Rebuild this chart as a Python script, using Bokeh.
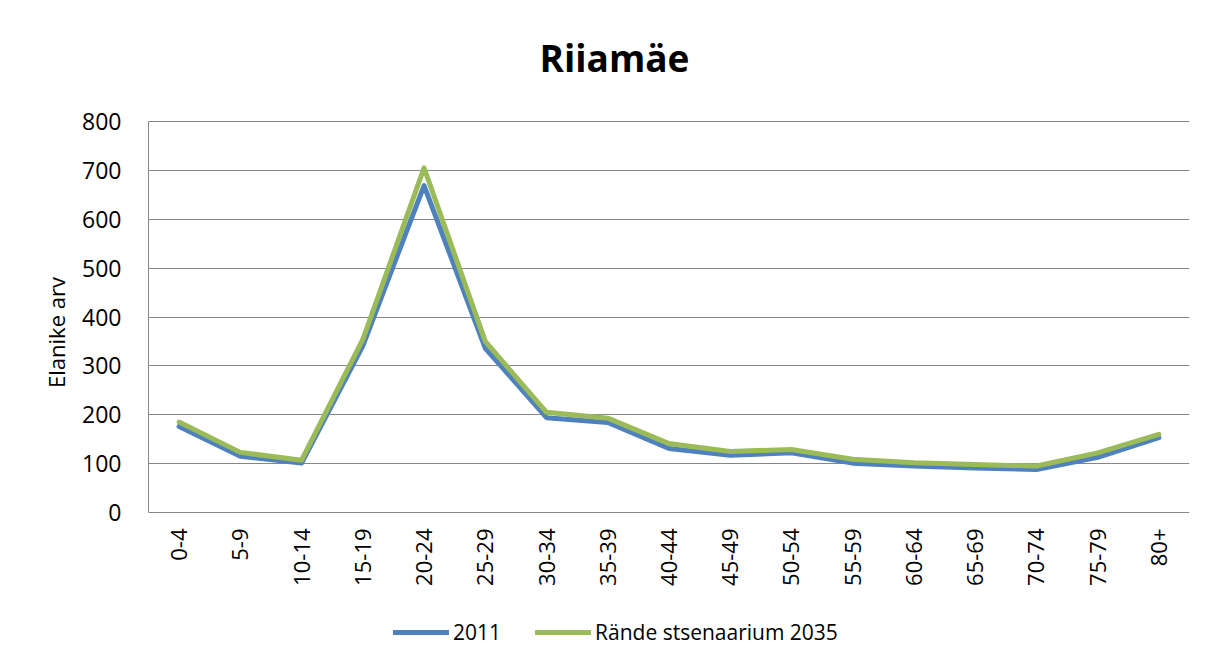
from math import pi
from bokeh.plotting import figure
from bokeh.core.properties import value
from bokeh.models import Range1d, FactorRange, FixedTicker, Legend, LegendItem, Label
from bokeh.embed import file_html
from bokeh.resources import INLINE

categories = ["0-4", "5-9", "10-14", "15-19", "20-24", "25-29", "30-34", "35-39",
              "40-44", "45-49", "50-54", "55-59", "60-64", "65-69", "70-74", "75-79", "80+"]
values_2011 = [176, 115, 101, 341, 669, 336, 194, 184, 131, 117, 122, 101, 95, 91, 88, 113, 153]
values_2035 = [185, 123, 107, 354, 705, 350, 205, 193, 141, 125, 129, 109, 102, 98, 95, 122, 160]
y_ticks = [0, 100, 200, 300, 400, 500, 600, 700, 800]
series_names = ["2011", "Rände stsenaarium 2035"]
title_text = "Riiamäe"
y_label = "Elanike arv"

FONT = "Open Sans"
GRID = "#868686"

# layout geometry (pixels): plot area spans y=121..512 on the page, frame extended to full height
W, H = 1212, 664
PLOT_TOP, PLOT_BOTTOM, LEFT, RIGHT = 121, 512, 148, 1189
k = (PLOT_BOTTOM - PLOT_TOP) / y_ticks[-1]
y_lo = -(H - PLOT_BOTTOM) / k
y_hi = PLOT_BOTTOM / k

p = figure(width=W, height=H, x_range=FactorRange(*categories), y_range=Range1d(y_lo, y_hi),
           output_backend="svg", toolbar_location=None, title=None, x_axis_location=None,
           min_border_left=LEFT, min_border_right=W - RIGHT, min_border_top=0,
           min_border_bottom=0)
p.outline_line_color = None
p.background_fill_color = "white"
p.border_fill_color = "white"

# y axis
p.yaxis.ticker = FixedTicker(ticks=y_ticks)
p.yaxis.bounds = (y_ticks[0], y_ticks[-1])
p.yaxis.major_tick_line_color = None
p.yaxis.minor_tick_line_color = None
p.yaxis.axis_line_color = GRID
p.yaxis.major_label_standoff = 21
p.yaxis.major_label_text_font = FONT
p.yaxis.major_label_text_font_size = "23px"
p.yaxis.major_label_text_color = "black"
p.yaxis.axis_label = y_label
p.yaxis.axis_label_text_font = FONT
p.yaxis.axis_label_text_font_size = "22px"
p.yaxis.axis_label_text_font_style = "normal"
p.yaxis.axis_label_text_color = "black"
p.yaxis.axis_label_standoff = 8

p.xgrid.grid_line_color = None
p.ygrid.ticker = FixedTicker(ticks=y_ticks)
p.ygrid.grid_line_color = GRID
p.ygrid.grid_line_width = 1

# category labels under the zero line (vertical text)
p.text(x=categories, y=[y_ticks[0]] * len(categories), text=categories, angle=pi / 2,
       text_align="right", text_baseline="middle", y_offset=16,
       text_font=value(FONT), text_font_size="22px", text_color="black")

r1 = p.line(categories, values_2011, line_color="#4F81BD", line_width=5,
            line_join="round", line_cap="round")
r2 = p.line(categories, values_2035, line_color="#9BBB59", line_width=5,
            line_join="round", line_cap="round")

legend = Legend(items=[LegendItem(label=series_names[0], renderers=[r1]),
                       LegendItem(label=series_names[1], renderers=[r2])],
                orientation="horizontal", location=(245, 18),
                glyph_width=56, glyph_height=20, label_standoff=4, spacing=34,
                padding=0, margin=0, border_line_color=None, background_fill_alpha=0,
                label_text_font=FONT, label_text_font_size="21px", label_text_color="black")
p.add_layout(legend)

# chart title, centred over the whole chart area
n = len(categories)
title_x = (614 - LEFT) / ((RIGHT - LEFT) / n)
title_y = (PLOT_BOTTOM - 57) / k
p.add_layout(Label(x=title_x, y=title_y, text=title_text, text_align="center",
                   text_baseline="middle", text_font=FONT, text_font_size="37px",
                   text_font_style="bold", text_color="black"))

open("out.html", "w").write(file_html(p, INLINE))
